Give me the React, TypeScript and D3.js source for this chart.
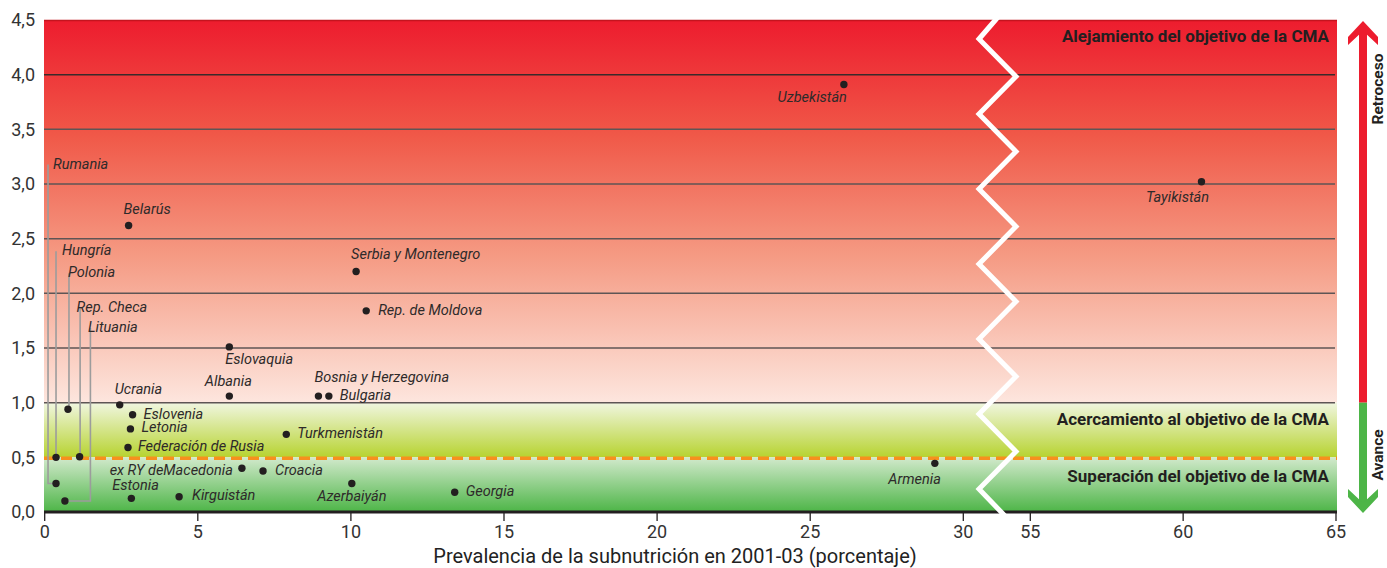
import React from "react";
import * as d3 from "d3";

// ---------- DATA ----------
const countries = [
  "Uzbekistán", "Tayikistán", "Belarús", "Serbia y Montenegro", "Rep. de Moldova",
  "Eslovaquia", "Albania", "Bosnia y Herzegovina", "Bulgaria", "Ucrania",
  "Eslovenia", "Letonia", "Federación de Rusia", "Turkmenistán", "ex RY deMacedonia",
  "Croacia", "Estonia", "Kirguistán", "Azerbaiyán", "Georgia", "Armenia",
  "Rumania", "Hungría", "Polonia", "Rep. Checa", "Lituania",
];
// Prevalence of undernourishment 2001-03 (%)
const prevalence = [
  26.1, 60.6, 2.74, 10.17, 10.5,
  6.03, 6.03, 8.94, 9.28, 2.45,
  2.87, 2.8, 2.72, 7.89, 6.44,
  7.13, 2.83, 4.39, 10.03, 13.39, 29.07,
  0.37, 0.37, 0.76, 1.14, 0.66,
];
// Ratio to MDG target
const ratio = [
  3.91, 3.02, 2.62, 2.2, 1.84,
  1.51, 1.06, 1.06, 1.06, 0.98,
  0.89, 0.76, 0.59, 0.71, 0.4,
  0.375, 0.125, 0.14, 0.26, 0.18, 0.445,
  0.26, 0.5, 0.94, 0.505, 0.1,
];
const yTicks = [0, 0.5, 1, 1.5, 2, 2.5, 3, 3.5, 4, 4.5];
const xTicksLeft = [0, 5, 10, 15, 20, 25, 30];
const xTicksRight = [55, 60, 65];
const zoneLabels = [
  "Alejamiento del objetivo de la CMA",
  "Acercamiento al objetivo de la CMA",
  "Superación del objetivo de la CMA",
];
const xTitle = "Prevalencia de la subnutrición en 2001-03 (porcentaje)";

// ---------- LABEL LAYOUT (px offsets from point) ----------
type Lbl = { dx: number; dy: number; anchor?: string; lineDx?: number };
const labelLayout: Record<string, Lbl> = {
  "Uzbekistán": { dx: 3, dy: 17, anchor: "end" },
  "Tayikistán": { dx: -24, dy: 20, anchor: "middle" },
  "Belarús": { dx: -5, dy: -12 },
  "Serbia y Montenegro": { dx: -5, dy: -12 },
  "Rep. de Moldova": { dx: 12, dy: 4 },
  "Eslovaquia": { dx: -4, dy: 17 },
  "Albania": { dx: -1, dy: -10, anchor: "middle" },
  "Bosnia y Herzegovina": { dx: -4, dy: -14 },
  "Bulgaria": { dx: 11, dy: 4 },
  "Ucrania": { dx: -5, dy: -11 },
  "Eslovenia": { dx: 11, dy: 4 },
  "Letonia": { dx: 11, dy: 3 },
  "Federación de Rusia": { dx: 10, dy: 4 },
  "Turkmenistán": { dx: 11, dy: 4 },
  "ex RY deMacedonia": { dx: -9, dy: 7, anchor: "end" },
  "Croacia": { dx: 12, dy: 4 },
  "Estonia": { dx: -19, dy: -8 },
  "Kirguistán": { dx: 13, dy: 3 },
  "Azerbaiyán": { dx: 0, dy: 17, anchor: "middle" },
  "Georgia": { dx: 11, dy: 4 },
  "Armenia": { dx: 6, dy: 21, anchor: "end" },
  "Rumania": { dx: -3, dy: -315, lineDx: -8 },
  "Hungría": { dx: 6, dy: -202, lineDx: 0 },
  "Polonia": { dx: 0, dy: -132, lineDx: 1 },
  "Rep. Checa": { dx: -3, dy: -145, lineDx: 0.5 },
  "Lituania": { dx: 23, dy: -169, lineDx: 25.5 },
};

// ---------- GEOMETRY ----------
const W = 1387, H = 568;
const plotL = 44, plotR = 1337, plotT = 20, plotB = 512;
const xLeft = d3.scaleLinear().domain([0, 30]).range([44.7, 963.3]);
const xRight = d3.scaleLinear().domain([55, 65]).range([1030.3, 1336]);
const xPos = (v: number) => (v > 42 ? xRight(v) : xLeft(v));
const y = d3.scaleLinear().domain([0, 4.5]).range([plotB, plotT]);

const FONT = "Roboto, 'Open Sans', sans-serif";

export default function App() {
  const zig: [number, number][] = [[998, 17]];
  for (let i = 0; i < 13; i++) zig.push([i % 2 === 0 ? 979 : 1016, 39 + i * 37.5]);
  zig.push([1005, 516]);
  const zigPath = d3.line()(zig) as string;

  const arrowX = 1363;
  return (
    <svg width={W} height={H} style={{ position: "absolute", left: 0, top: 0, background: "#fff" }}
      fontFamily={FONT}>
      <defs>
        <linearGradient id="gRed" x1="0" y1="0" x2="0" y2="1">
          <stop offset="0" stopColor="#ED1C2E" />
          <stop offset="0.3" stopColor="#F05848" />
          <stop offset="0.62" stopColor="#F59B84" />
          <stop offset="1" stopColor="#FDE6DE" />
        </linearGradient>
        <linearGradient id="gYel" x1="0" y1="0" x2="0" y2="1">
          <stop offset="0" stopColor="#F0F6E0" />
          <stop offset="1" stopColor="#B7D330" />
        </linearGradient>
        <linearGradient id="gGrn" x1="0" y1="0" x2="0" y2="1">
          <stop offset="0" stopColor="#D2E9CC" />
          <stop offset="1" stopColor="#4DB547" />
        </linearGradient>
      </defs>

      {/* background zones */}
      <rect x={plotL} y={y(4.5)} width={plotR - plotL} height={y(1) - y(4.5)} fill="url(#gRed)" />
      <rect x={plotL} y={y(1)} width={plotR - plotL} height={y(0.5) - y(1)} fill="url(#gYel)" />
      <rect x={plotL} y={y(0.5)} width={plotR - plotL} height={y(0) - y(0.5)} fill="url(#gGrn)" />
      <line x1={plotL} x2={plotR} y1={y(4.5) + 0.5} y2={y(4.5) + 0.5} stroke="#C4141F" strokeWidth={1.5} />

      {/* gridlines */}
      {yTicks.filter((t) => t >= 1 && t <= 4).map((t) => (
        <line key={t} x1={plotL} x2={plotR - 2} y1={y(t)} y2={y(t)}
          stroke={t === 4 ? "#3a2a2a" : "#5e5555"} strokeWidth={1.5} />
      ))}
      {/* target line */}
      <line x1={plotL} x2={plotR} y1={y(0.5) + 1} y2={y(0.5) + 1} stroke="#F7901E" strokeWidth={3.5}
        strokeDasharray="11 6" />

      {/* x axis */}
      <line x1={plotL} x2={plotR} y1={plotB} y2={plotB} stroke="#231F20" strokeWidth={3} />
      {xTicksLeft.map((t) => (
        <g key={"l" + t} transform={`translate(${xLeft(t)},0)`}>
          <line y1={plotB} y2={plotB + 9} stroke="#231F20" strokeWidth={1.3} />
          <text y={538} textAnchor="middle" fontSize={18} fill="#333">{t}</text>
        </g>
      ))}
      {xTicksRight.map((t) => (
        <g key={"r" + t} transform={`translate(${xRight(t)},0)`}>
          <line y1={plotB} y2={plotB + 9} stroke="#231F20" strokeWidth={1.3} />
          <text y={538} textAnchor="middle" fontSize={18} fill="#333">{t}</text>
        </g>
      ))}
      <text x={675} y={563} textAnchor="middle" fontSize={20} fill="#222">{xTitle}</text>

      {/* y labels */}
      {yTicks.map((t) => (
        <text key={t} x={35} y={y(t)} dy="0.36em" textAnchor="end" fontSize={18} fill="#333">
          {t.toFixed(1).replace(".", ",")}
        </text>
      ))}

      {/* break zigzag */}
      <path d={zigPath} fill="none" stroke="#fff" strokeWidth={5} strokeLinejoin="miter" />

      {/* zone labels */}
      <g fontSize={17} fontWeight="bold" fill="#231F20" textAnchor="end">
        <text x={1329} y={42}>{zoneLabels[0]}</text>
        <text x={1329} y={425}>{zoneLabels[1]}</text>
        <text x={1329} y={482}>{zoneLabels[2]}</text>
      </g>

      {/* leader lines */}
      {countries.map((c, i) => {
        const L = labelLayout[c];
        if (L.lineDx === undefined) return null;
        const px = xPos(prevalence[i]), py = y(ratio[i]);
        const lx = px + L.lineDx;
        const top = py + L.dy - 4;
        const pts: [number, number][] = [[lx, top], [lx, py], [px, py]];
        return <path key={"ld" + c} d={d3.line()(pts) as string} fill="none" stroke="#9c9c9c" strokeWidth={1.6} />;
      })}

      {/* points & labels */}
      {countries.map((c, i) => {
        const L = labelLayout[c];
        const px = xPos(prevalence[i]), py = y(ratio[i]);
        return (
          <g key={c}>
            <circle cx={px} cy={py} r={3.7} fill="#231F20" />
            <text x={px + L.dx} y={py + L.dy} textAnchor={L.anchor || "start"} fontSize={14.5}
              fontStyle="italic" fill="#2e2a2a">{c}</text>
          </g>
        );
      })}

      {/* right arrow */}
      <rect x={arrowX - 4} y={28} width={8} height={y(1) - 28} fill="#ED1C2E" />
      <polygon points={`${arrowX},21 ${arrowX + 15},37 ${arrowX + 15},45 ${arrowX},31 ${arrowX - 15},45 ${arrowX - 15},37`}
        fill="#ED1C2E" />
      <rect x={arrowX - 4} y={y(1)} width={8} height={505 - y(1)} fill="#4DB547" />
      <polygon points={`${arrowX},513 ${arrowX + 15},497 ${arrowX + 15},489 ${arrowX},503 ${arrowX - 15},489 ${arrowX - 15},497`}
        fill="#4DB547" />
      <text transform="translate(1378,89) rotate(-90)" textAnchor="middle" dy="0.35em" fontSize={15.5}
        fontWeight="bold" fill="#231F20">Retroceso</text>
      <text transform="translate(1378,455) rotate(-90)" textAnchor="middle" dy="0.35em" fontSize={15.5}
        fontWeight="bold" fill="#231F20">Avance</text>
    </svg>
  );
}
